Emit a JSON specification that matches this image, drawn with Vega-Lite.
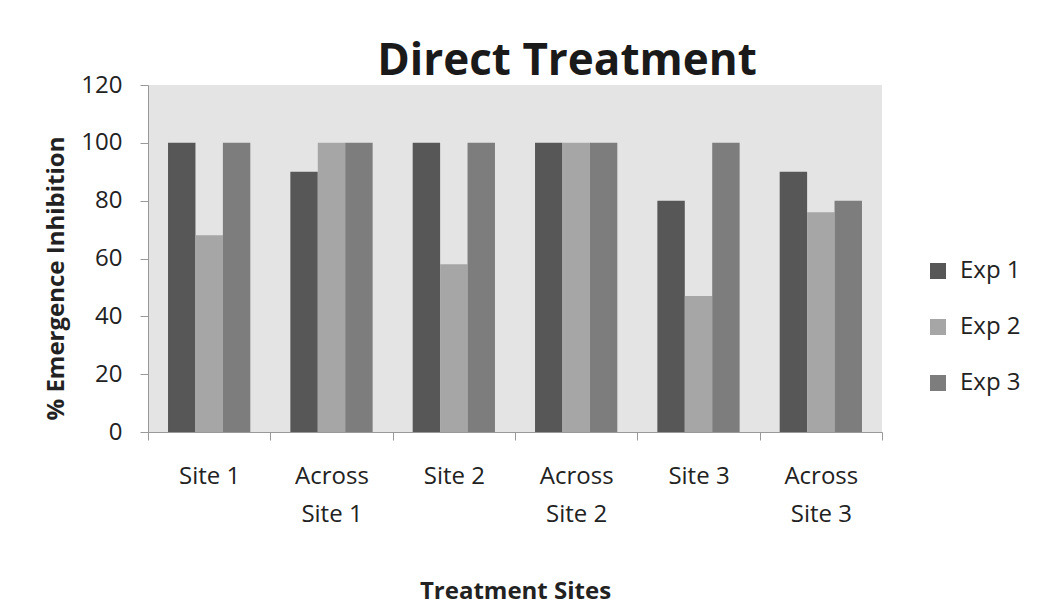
{
  "$schema": "https://vega.github.io/schema/vega-lite/v6.json",
  "autosize": "none",
  "width": 734,
  "height": 347,
  "padding": {"left": 148, "top": 85, "right": 169, "bottom": 181},
  "background": "white",
  "title": {
    "text": "Direct Treatment",
    "font": "Open Sans",
    "fontSize": 44,
    "fontWeight": "bold",
    "color": "#1a1a1a",
    "anchor": "middle",
    "dx": 52,
    "offset": -11
  },
  "data": {
    "values": [
      {"site": "Site 1", "exp": "Exp 1", "value": 100},
      {"site": "Site 1", "exp": "Exp 2", "value": 68},
      {"site": "Site 1", "exp": "Exp 3", "value": 100},
      {"site": "Across Site 1", "exp": "Exp 1", "value": 90},
      {"site": "Across Site 1", "exp": "Exp 2", "value": 100},
      {"site": "Across Site 1", "exp": "Exp 3", "value": 100},
      {"site": "Site 2", "exp": "Exp 1", "value": 100},
      {"site": "Site 2", "exp": "Exp 2", "value": 58},
      {"site": "Site 2", "exp": "Exp 3", "value": 100},
      {"site": "Across Site 2", "exp": "Exp 1", "value": 100},
      {"site": "Across Site 2", "exp": "Exp 2", "value": 100},
      {"site": "Across Site 2", "exp": "Exp 3", "value": 100},
      {"site": "Site 3", "exp": "Exp 1", "value": 80},
      {"site": "Site 3", "exp": "Exp 2", "value": 47},
      {"site": "Site 3", "exp": "Exp 3", "value": 100},
      {"site": "Across Site 3", "exp": "Exp 1", "value": 90},
      {"site": "Across Site 3", "exp": "Exp 2", "value": 76},
      {"site": "Across Site 3", "exp": "Exp 3", "value": 80}
    ]
  },
  "mark": {"type": "bar"},
  "encoding": {
    "x": {
      "field": "site",
      "type": "nominal",
      "sort": null,
      "scale": {"paddingInner": 0, "paddingOuter": 0},
      "axis": {
        "title": "Treatment Sites",
        "titleFont": "Open Sans",
        "titleFontSize": 24,
        "titleFontWeight": "bold",
        "titleColor": "#222",
        "titlePadding": 53,
        "labelFont": "Open Sans",
        "labelFontSize": 24,
        "labelColor": "#222",
        "labelAngle": 0,
        "labelPadding": 24,
        "labelLineHeight": 38,
        "labelExpr": "indexof(datum.label, 'Across') == 0 ? ['Across', substring(datum.label, 7)] : datum.label",
        "tickBand": "extent",
        "tickSize": 8,
        "tickColor": "#999",
        "domainColor": "#999",
        "grid": false
      }
    },
    "xOffset": {"field": "exp", "type": "nominal", "scale": {"paddingInner": 0, "paddingOuter": 0.73}},
    "y": {
      "field": "value",
      "type": "quantitative",
      "scale": {"domain": [0, 120]},
      "axis": {
        "title": "% Emergence Inhibition",
        "titleFont": "Open Sans",
        "titleFontSize": 24,
        "titleFontWeight": "bold",
        "titleColor": "#222",
        "titlePadding": 12,
        "titleY": 193,
        "labelFont": "Open Sans",
        "labelFontSize": 24,
        "labelColor": "#222",
        "labelPadding": 18,
        "values": [0, 20, 40, 60, 80, 100, 120],
        "tickSize": 8,
        "tickColor": "#999",
        "domainColor": "#999",
        "grid": false
      }
    },
    "color": {
      "field": "exp",
      "type": "nominal",
      "scale": {"domain": ["Exp 1", "Exp 2", "Exp 3"], "range": ["#575757", "#a6a6a6", "#7d7d7d"]},
      "legend": {
        "title": null,
        "orient": "none",
        "legendX": 778,
        "legendY": 174,
        "symbolType": "square",
        "symbolSize": 256,
        "symbolStrokeWidth": 0,
        "labelFont": "Open Sans",
        "labelFontSize": 24,
        "labelColor": "#222",
        "labelOffset": 10,
        "rowPadding": 32
      }
    }
  },
  "config": {
    "view": {"fill": "#e4e4e4", "stroke": null}
  }
}
